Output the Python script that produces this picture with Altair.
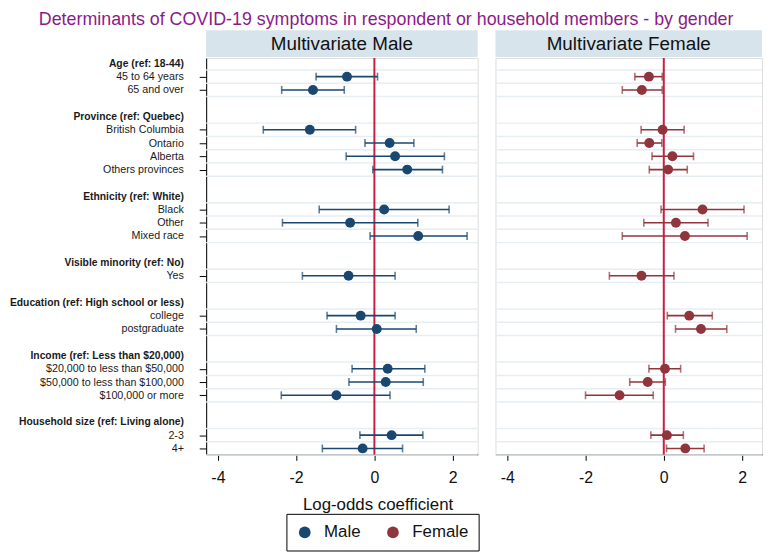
import json
import pandas as pd
import altair as alt

# ---------------- data ----------------
title_text = "Determinants of COVID-19 symptoms in respondent or household members - by gender"
panel_names = ["Multivariate Male", "Multivariate Female"]
series_names = ["Male", "Female"]
x_title = "Log-odds coefficient"

group_headers = [
    "Age (ref: 18-44)",
    "Province (ref: Quebec)",
    "Ethnicity (ref: White)",
    "Visible minority (ref: No)",
    "Education (ref: High school or less)",
    "Income (ref: Less than $20,000)",
    "Household size (ref: Living alone)",
]
group_items = [
    ["45 to 64 years", "65 and over"],
    ["British Columbia", "Ontario", "Alberta", "Others provinces"],
    ["Black", "Other", "Mixed race"],
    ["Yes"],
    ["college", "postgraduate"],
    ["$20,000 to less than $50,000", "$50,000 to less than $100,000", "$100,000 or more"],
    ["2-3", "4+"],
]

male_coef = [-0.70, -1.57, -1.65, 0.39, 0.53, 0.84, 0.25, -0.62, 1.12, -0.66, -0.35, 0.06, 0.34, 0.29, -0.97, 0.44, -0.30]
male_lo = [-1.49, -2.37, -2.84, -0.24, -0.72, -0.04, -1.41, -2.35, -0.11, -1.84, -1.21, -0.97, -0.57, -0.65, -2.38, -0.37, -1.33]
male_hi = [0.08, -0.77, -0.48, 1.01, 1.79, 1.74, 1.91, 1.11, 2.37, 0.53, 0.53, 1.07, 1.29, 1.25, 0.40, 1.24, 0.72]

female_coef = [-0.38, -0.56, -0.03, -0.37, 0.22, 0.11, 0.99, 0.31, 0.54, -0.57, 0.65, 0.95, 0.03, -0.41, -1.13, 0.08, 0.55]
female_lo = [-0.74, -1.06, -0.58, -0.68, -0.30, -0.37, -0.07, -0.51, -1.06, -1.39, 0.09, 0.30, -0.38, -0.87, -2.00, -0.33, 0.07]
female_hi = [-0.04, -0.04, 0.52, -0.05, 0.76, 0.60, 2.05, 1.13, 2.13, 0.26, 1.24, 1.61, 0.43, 0.04, -0.27, 0.50, 1.03]

x_ticks = [-4, -2, 0, 2]

# ---------------- styling ----------------
FONT = "Liberation Sans"
male_color = "#1a476f"
female_color = "#90353b"
zero_color = "#c91f43"
grid_color = "#e6eef2"
strip_color = "#d7e4eb"
title_color = "#8b1a89"

# ---------------- row layout ----------------
labels, header_rows, item_rows, item_labels = [], [], [], []
for g, (h, items) in enumerate(zip(group_headers, group_items)):
    if g > 0:
        labels.append("")
    header_rows.append(len(labels))
    labels.append(h)
    for it in items:
        item_rows.append(len(labels))
        item_labels.append(it)
        labels.append(it)
n_rows = len(labels)

grid_vals = sorted(set([r - 0.5 for r in item_rows] + [r + 0.5 for r in item_rows]))
grid_df = pd.DataFrame({"gy": grid_vals})


def make_df(coef, lo, hi, series):
    return pd.DataFrame({"row": item_rows, "label": item_labels, "coef": coef,
                         "lo": lo, "hi": hi, "series": series})


df_m = make_df(male_coef, male_lo, male_hi, series_names[0])
df_f = make_df(female_coef, female_lo, female_hi, series_names[1])

y_scale = alt.Scale(domain=[-0.4, n_rows - 1 + 0.45], reverse=True, nice=False, zero=False)
color_scale = alt.Scale(domain=series_names, range=[male_color, female_color])

is_item = f"indexof({json.dumps(item_rows)}, datum.value) >= 0"
is_header = f"indexof({json.dumps(header_rows)}, datum.value) >= 0"

x_label_expr = "datum.value < 0 ? '-' + abs(datum.value) : '' + datum.value"

legend = alt.Legend(title=None, orient="none", legendX=81, legendY=460,
                    direction="horizontal", symbolType="circle",
                    symbolSize=140, symbolStrokeWidth=0,
                    labelFontSize=17, labelFont=FONT, labelColor="#111",
                    strokeColor="black", fillColor="white",
                    padding=10, columnPadding=24, labelOffset=11, symbolOpacity=1)


def panel(df, name, width, domain, left):
    x_scale = alt.Scale(domain=domain, nice=False, zero=False)
    x_axis = alt.Axis(values=x_ticks, labelExpr=x_label_expr, tickSize=6, tickColor="black",
                      domainColor="black", labelFontSize=16, labelFont=FONT, labelColor="#111",
                      labelPadding=9, labelFlush=False, labelOverlap=False, grid=False,
                      title=x_title if left else None, titleFont=FONT, titleFontSize=17,
                      titleFontWeight="normal", titleColor="#111", titlePadding=12,
                      titleX=173, titleAlign="center")
    if left:
        y_axis = alt.Axis(values=list(range(n_rows)),
                          labelExpr=f"{json.dumps(labels)}[datum.value]",
                          labelFontWeight=alt.condition(is_header, alt.value("bold"), alt.value("normal")),
                          labelFontSize=alt.condition(is_header, alt.value(10.4), alt.value(10.8)),
                          tickOpacity=alt.condition(is_item, alt.value(1), alt.value(0)),
                          tickSize=7, tickColor="black", domainColor="black",
                          labelPadding=16, labelFont=FONT, labelColor="#1a1a1a",
                          labelOverlap=False, labelLimit=400, grid=False, title=None)
    else:
        y_axis = None

    def X(f):
        return alt.X(f, scale=x_scale, axis=x_axis)

    def Y(f):
        return alt.Y(f, scale=y_scale, axis=y_axis)

    col = alt.Color("series:N", scale=color_scale, legend=legend)

    base = alt.Chart(df)
    grid = alt.Chart(grid_df).mark_rule(color=grid_color, strokeWidth=1.5).encode(y=Y("gy:Q"))
    zero = alt.Chart(pd.DataFrame({"z": [0]})).mark_rule(color=zero_color, strokeWidth=2).encode(
        x=X("z:Q"))
    bars = base.mark_rule(strokeWidth=1.6).encode(x=X("lo:Q"), x2="hi:Q", y=Y("row:Q"), color=col)
    cap_lo = base.mark_tick(orient="vertical", size=8, thickness=1.6).encode(
        x=X("lo:Q"), y=Y("row:Q"), color=col)
    cap_hi = base.mark_tick(orient="vertical", size=8, thickness=1.6).encode(
        x=X("hi:Q"), y=Y("row:Q"), color=col)
    pts = base.mark_point(filled=True, shape="circle", size=100, opacity=1).encode(
        x=X("coef:Q"), y=Y("row:Q"), color=col)
    strip = alt.Chart(pd.DataFrame({"panel": [name]})).mark_rect(color=strip_color).encode(
        x=alt.value(0), x2=alt.value(width), y=alt.value(-28), y2=alt.value(-1))
    strip_text = alt.Chart(pd.DataFrame({"panel": [name]})).mark_text(
        font=FONT, fontSize=19, color="#111", baseline="middle", align="center").encode(
        x=alt.value(width / 2), y=alt.value(-14), text="panel:N")
    return alt.layer(grid, zero, bars, cap_lo, cap_hi, pts, strip, strip_text).properties(
        width=width, height=400)


male = panel(df_m, panel_names[0], 274, [-4.30, 2.64], True)
female = panel(df_f, panel_names[1], 269, [-4.30, 2.51], False)

chart = alt.hconcat(male, female, spacing=14).resolve_scale(color="shared").properties(
    title=alt.Title(title_text, font=FONT, fontSize=18, fontWeight="normal", color=title_color,
                    anchor="middle", offset=1),
    padding={"left": 0, "top": 0, "right": 0, "bottom": 0},
).configure_view(stroke=None).configure(background="white")

chart.save("out.html", embed_options={"renderer": "svg", "actions": False})
